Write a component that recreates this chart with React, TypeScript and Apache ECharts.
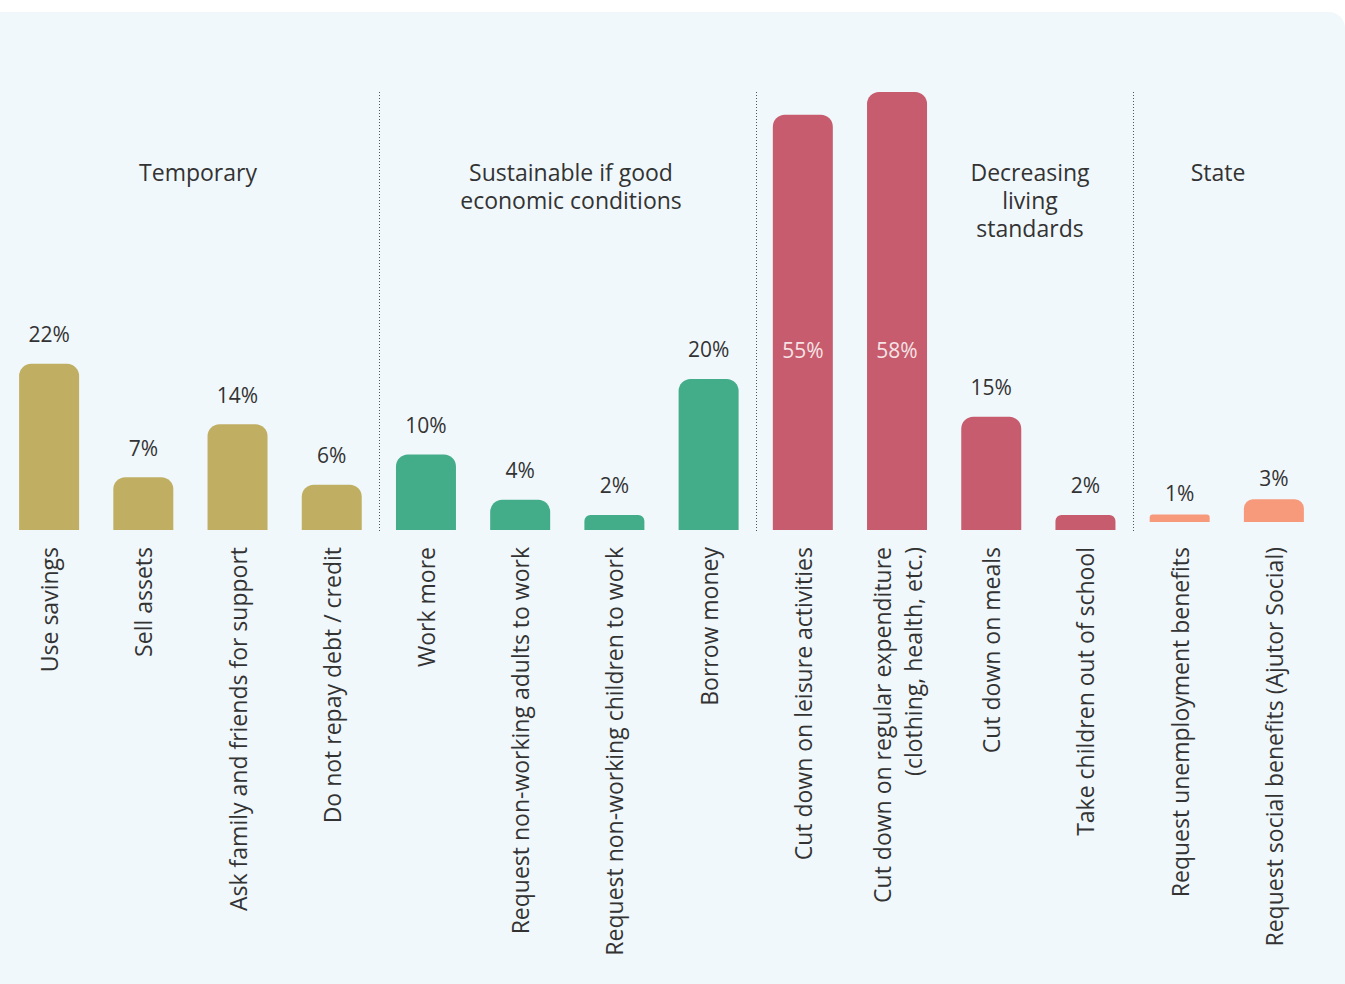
import React, { useEffect, useRef } from "react";
import * as echarts from "echarts";

const categories = [
  "Use savings",
  "Sell assets",
  "Ask family and friends for support",
  "Do not repay debt / credit",
  "Work more",
  "Request non-working adults to work",
  "Request non-working children to work",
  "Borrow money",
  "Cut down on leisure activities",
  "Cut down on regular expenditure\n(clothing, health, etc.)",
  "Cut down on meals",
  "Take children out of school",
  "Request unemployment benefits",
  "Request social benefits (Ajutor Social)",
];
const values = [22, 7, 14, 6, 10, 4, 2, 20, 55, 58, 15, 2, 1, 3];
const groupOf = [0, 0, 0, 0, 1, 1, 1, 1, 2, 2, 2, 2, 3, 3];
const groupNames = [
  "Temporary",
  "Sustainable if good\neconomic conditions",
  "Decreasing\nliving\nstandards",
  "State",
];
const groupColors = ["#C0AF62", "#43AC88", "#C65C6D", "#F79A7B"];

const FONT = "'Open Sans', 'Noto Sans', sans-serif";
const Y_MAX = 58;
const PLOT_H = 438;
const INSIDE_LEVEL = 23.8; // value level where inside labels sit
const groupCenters = [198, 571, 1030, 1218];
const dividerBefore = [4, 8, 12];

export default function App() {
  const ref = useRef<HTMLDivElement>(null);
  useEffect(() => {
    if (!ref.current) return;
    const chart = echarts.init(ref.current, undefined, { renderer: "svg" });

    const makeItem = (i: number) => {
      const v = values[i];
      const r = Math.min(12, v * 3);
      const item: any = {
        value: v,
        itemStyle: { color: groupColors[groupOf[i]], borderRadius: [r, r, 0, 0] },
      };
      if (v >= 50) {
        item.label = {
          position: ["50%", ((v - INSIDE_LEVEL) * PLOT_H) / Y_MAX],
          align: "center",
          verticalAlign: "middle",
          distance: 0,
          color: "#F7E3E6",
        };
      }
      return item;
    };

    const mainData = values.map((_, i) => (groupOf[i] < 3 ? makeItem(i) : "-"));
    const stateData = values.map((_, i) => (groupOf[i] === 3 ? makeItem(i) : "-"));

    const labelBase = {
      show: true,
      position: "top",
      formatter: "{c}%",
      fontSize: 21,
      color: "#333",
      fontFamily: FONT,
    };

    const titleEls: any[] = groupNames.map((name, gi) => ({
      type: "text",
      x: groupCenters[gi],
      y: 158,
      style: {
        text: name,
        align: "center",
        verticalAlign: "top",
        fontSize: 23,
        lineHeight: 28,
        fontFamily: FONT,
        fill: "#333",
      },
    }));

    chart.setOption({
      animation: false,
      backgroundColor: "transparent",
      grid: [
        { left: 2, width: 1319, top: 92, bottom: 984 - 530 },
        { left: 2, width: 1319, top: 84, bottom: 984 - 522 },
      ],
      xAxis: [
        {
          type: "category",
          gridIndex: 0,
          data: categories,
          axisLine: { show: false },
          axisTick: { show: false },
          axisLabel: {
            interval: 0,
            rotate: 90,
            margin: 17,
            fontSize: 23,
            lineHeight: 31,
            color: "#333",
            fontFamily: FONT,
          },
          splitLine: { show: false },
        },
        {
          type: "category",
          gridIndex: 1,
          data: categories,
          show: false,
        },
      ],
      yAxis: [
        { type: "value", gridIndex: 0, min: 0, max: Y_MAX, show: false },
        { type: "value", gridIndex: 1, min: 0, max: Y_MAX, show: false },
      ],
      graphic: titleEls,
      series: [
        {
          type: "bar",
          xAxisIndex: 0,
          yAxisIndex: 0,
          barWidth: 60,
          data: mainData,
          label: { ...labelBase, distance: 19 },
        },
        {
          type: "bar",
          xAxisIndex: 1,
          yAxisIndex: 1,
          barWidth: 60,
          data: stateData,
          label: { ...labelBase, distance: 11 },
        },
      ],
    });

    const yTop = chart.convertToPixel({ yAxisIndex: 0 }, Y_MAX) as number;
    const yBot = (chart.convertToPixel({ yAxisIndex: 0 }, 0) as number) + 1;
    const dividerEls = dividerBefore.map((idx) => {
      const a = chart.convertToPixel({ xAxisIndex: 0 }, categories[idx - 1]) as number;
      const b = chart.convertToPixel({ xAxisIndex: 0 }, categories[idx]) as number;
      const x = Math.round((a + b) / 2) + 0.5;
      return {
        type: "line",
        shape: { x1: x, y1: yTop, x2: x, y2: yBot },
        style: { stroke: "#555", lineWidth: 1, lineDash: [1, 2] },
        silent: true,
      };
    });
    chart.setOption({ graphic: [...titleEls, ...dividerEls] });

    return () => chart.dispose();
  }, []);

  return (
    <div style={{ position: "absolute", left: 0, top: 0, width: 1345, height: 984, background: "#fff", overflow: "hidden" }}>
      <div
        style={{
          position: "absolute",
          left: 0,
          top: 12,
          width: 1345,
          height: 972,
          background: "#F1F8FC",
          borderTopRightRadius: 16,
        }}
      />
      <div ref={ref} style={{ position: "absolute", left: 0, top: 0, width: 1345, height: 984 }} />
    </div>
  );
}
